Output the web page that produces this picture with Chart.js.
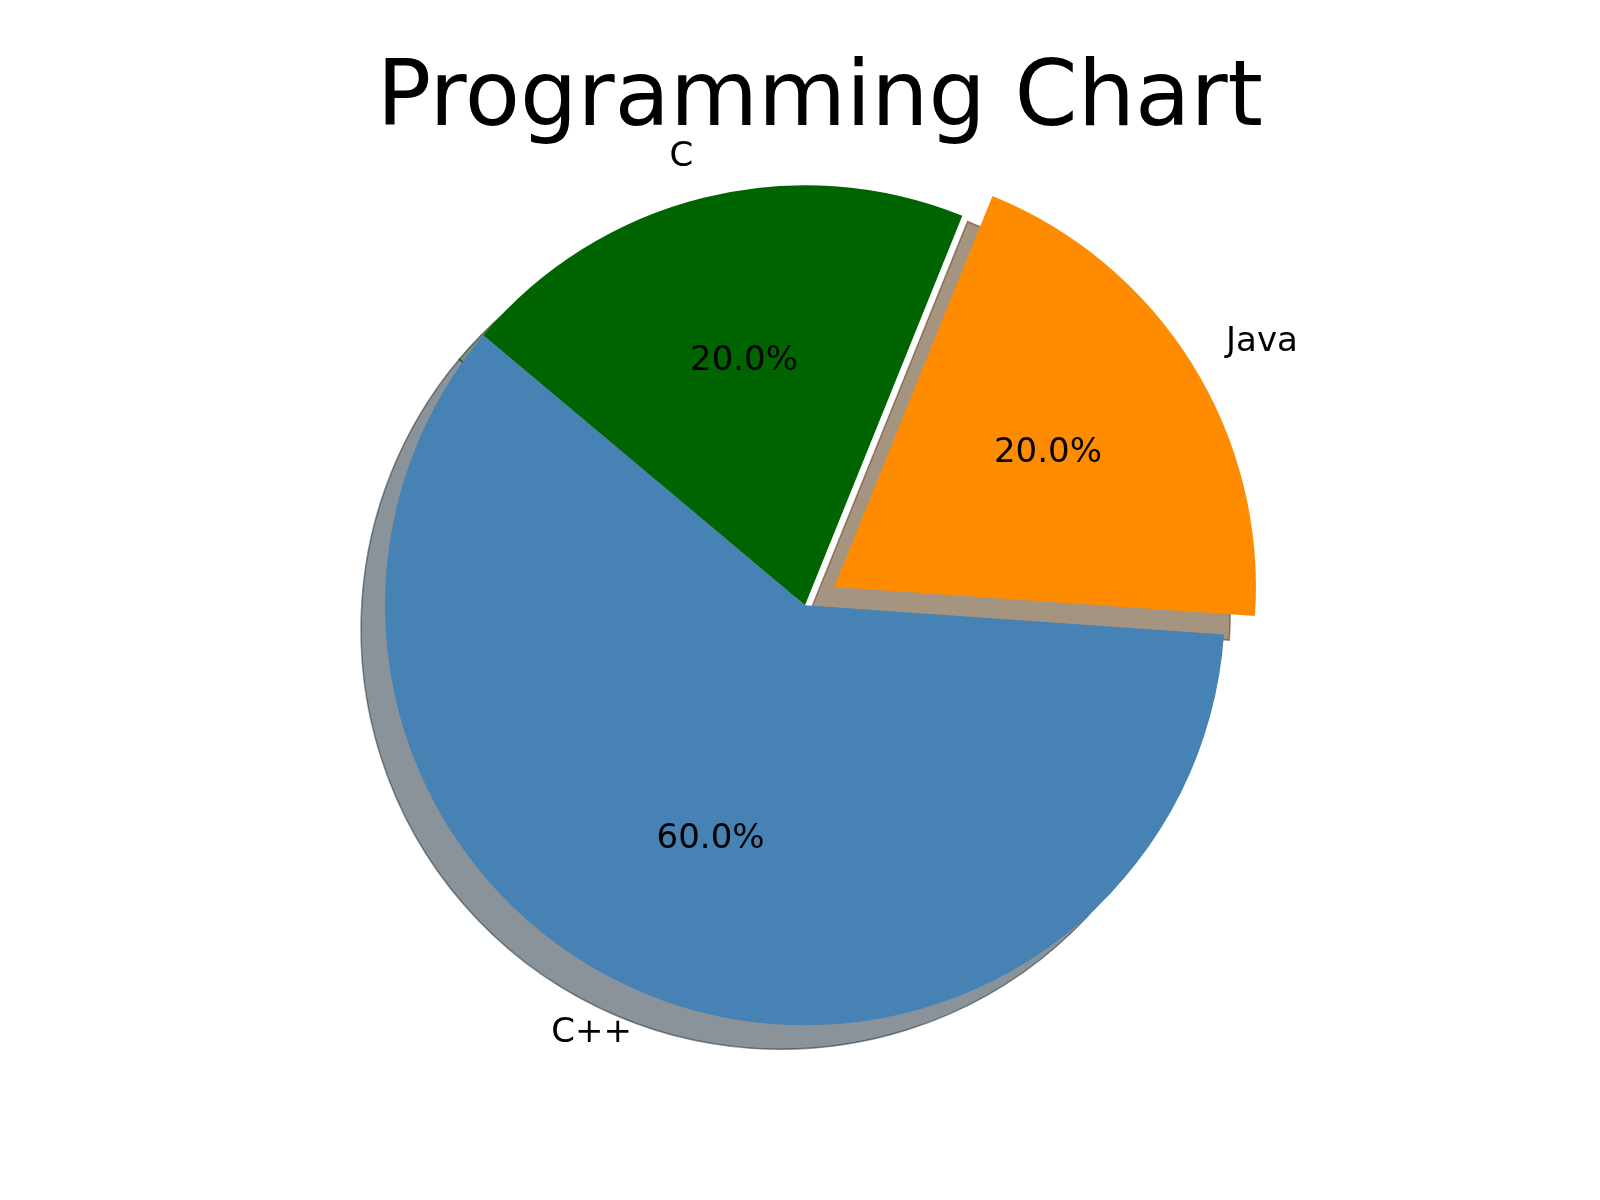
<!DOCTYPE html>
<html>
<head>
<meta charset="utf-8">
<title>Programming Chart</title>
<script src="https://cdn.jsdelivr.net/npm/chart.js@4.4.1/dist/chart.umd.min.js"></script>
<style>
  html, body { margin: 0; padding: 0; background: #ffffff; }
  #wrap { width: 1600px; height: 1200px; }
</style>
</head>
<body>
<div id="wrap"><canvas id="pie" width="1600" height="1200"></canvas></div>
<script>
// pie data (order is clockwise from the C wedge)
const languages = ['C', 'Java', 'C++'];
const shares = [20, 20, 60];

// styles
const sliceColors = ['#006400', '#FF8C00', '#4682B4'];
const shadowColors = ['rgba(0,30,0,0.5)', 'rgba(76,42,0,0.5)', 'rgba(21,39,54,0.5)'];
const explode = [0, 138, 0];           // chart.js moves a wedge by offset/4
const FONT = '"DejaVu Sans", Verdana, sans-serif';

function pct(v) {
    const total = shares.reduce((s, x) => s + x, 0);
    return (v / total * 100).toFixed(1) + '%';
}

// grey copies of the wedges, shifted down-left, under the pie
const shadowPlugin = {
    id: 'pieShadow',
    beforeDatasetsDraw(chart) {
        const ctx = chart.ctx;
        const arcs = chart.getDatasetMeta(0).data;
        ctx.save();
        ctx.translate(-24, 24);
        arcs.forEach((arc, i) => {
            const p = arc.getProps(['x', 'y', 'startAngle', 'endAngle', 'outerRadius'], true);
            const mid = (p.startAngle + p.endAngle) / 2;
            const t = (arc.options.offset || 0) / 4;
            const cx = p.x + Math.cos(mid) * t, cy = p.y + Math.sin(mid) * t;
            ctx.beginPath();
            ctx.moveTo(cx, cy);
            ctx.arc(cx, cy, p.outerRadius, p.startAngle, p.endAngle);
            ctx.closePath();
            ctx.fillStyle = shadowColors[i];
            ctx.fill();
            ctx.lineWidth = 1.5;
            ctx.strokeStyle = shadowColors[i];
            ctx.stroke();
        });
        ctx.restore();
    }
};

// names at 1.1 r, percentages at 0.6 r
const labelPlugin = {
    id: 'pieLabels',
    afterDatasetsDraw(chart) {
        const ctx = chart.ctx;
        const arcs = chart.getDatasetMeta(0).data;
        ctx.save();
        ctx.font = '34px ' + FONT;
        ctx.fillStyle = '#000000';
        ctx.textBaseline = 'middle';
        arcs.forEach((arc, i) => {
            const p = arc.getProps(['x', 'y', 'startAngle', 'endAngle', 'outerRadius'], true);
            const mid = (p.startAngle + p.endAngle) / 2;
            const dx = Math.cos(mid), dy = Math.sin(mid);
            const t = (arc.options.offset || 0) / 4;
            const cx = p.x + dx * t, cy = p.y + dy * t;
            const r = p.outerRadius;
            ctx.textAlign = dx > 0 ? 'left' : 'right';
            ctx.fillText(languages[i], cx + dx * r * 1.1, cy + dy * r * 1.1);
            ctx.textAlign = 'center';
            ctx.fillText(pct(shares[i]), cx + dx * r * 0.6, cy + dy * r * 0.6);
        });
        ctx.restore();
    }
};

new Chart(document.getElementById('pie'), {
    type: 'pie',
    data: {
        labels: languages,
        datasets: [{
            data: shares,
            backgroundColor: sliceColors,
            borderWidth: 0,
            offset: explode,
            radius: 420,
            clip: false
        }]
    },
    options: {
        responsive: false,
        animation: false,
        rotation: -50,
        layout: { padding: { left: 347, right: 337, top: 0, bottom: 146 } },
        plugins: {
            legend: { display: false },
            tooltip: { enabled: false },
            title: {
                display: true,
                text: 'Programming Chart',
                align: 'end',
                color: '#000000',
                font: { family: FONT, size: 90.4, weight: 'normal', lineHeight: 1.2 },
                padding: { top: 47, bottom: 1 }
            }
        }
    },
    plugins: [shadowPlugin, labelPlugin]
});
</script>
</body>
</html>
